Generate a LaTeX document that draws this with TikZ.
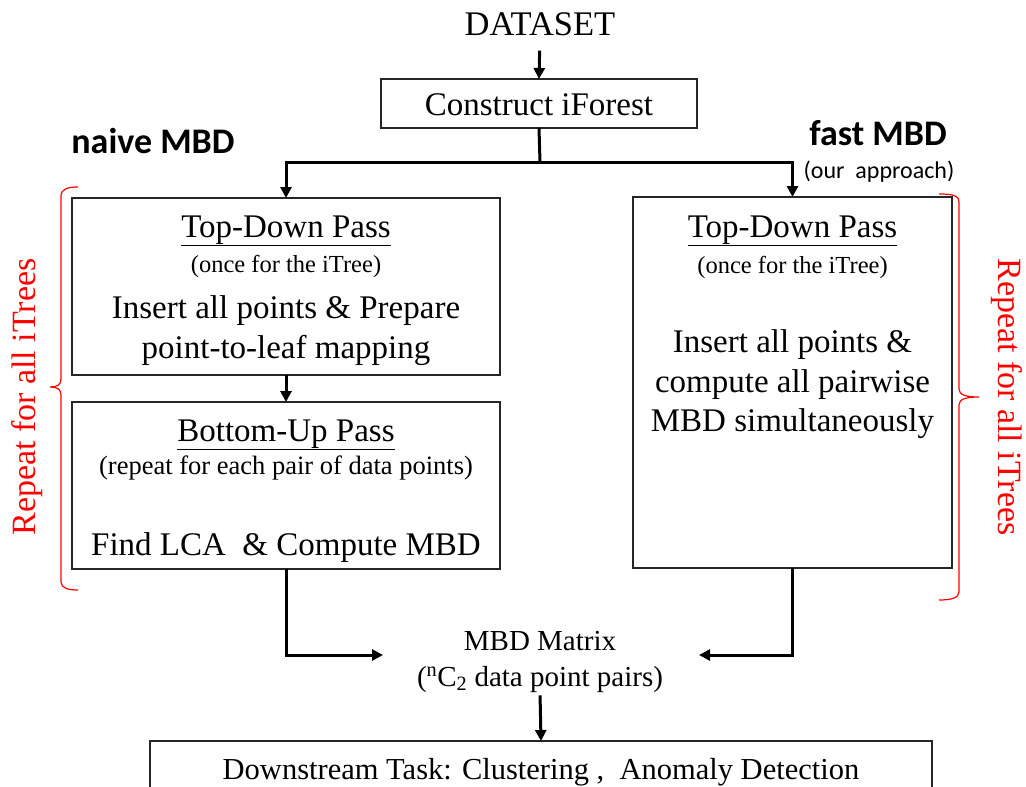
\documentclass[tikz,border=0pt]{standalone}
\usepackage{fontspec}
\setmainfont{Liberation Serif}
\newfontfamily\labelsans{Carlito}
\usetikzlibrary{arrows.meta}

\begin{document}
\begin{tikzpicture}[x=1pt,y=-1pt,
  box/.style={draw=black!85, line width=1.3pt, inner sep=0pt, outer sep=0pt},
  conn/.style={line width=3pt, line join=miter, -{Triangle[length=11pt,width=11pt]}},
  trunk/.style={line width=3pt},
  big/.style={anchor=base, inner sep=0pt, font=\fontsize{33}{38}\selectfont},
  note/.style={anchor=base, inner sep=0pt, font=\fontsize{24.5}{28}\selectfont},
  head/.style={anchor=base, inner sep=0pt, font=\labelsans\bfseries\fontsize{36}{40}\selectfont},
  bracepath/.style={draw=red, line width=1.2pt},
  bracetext/.style={anchor=base, inner sep=0pt, text=red, font=\fontsize{34}{38}\selectfont}]

\clip (0,0) rectangle (1026,787);

% input and forest construction
\node[big, font=\fontsize{34.5}{38}\selectfont] (data) at (540,35) {DATASET};
\node[box, minimum width=316pt, minimum height=49pt] (forest) at (539,103.5) {};
\node[big] (forestlbl) at (539,115) {Construct iForest};

% method headings
\node[head] (naive) at (153,153) {naive MBD};
\node[head] (fast) at (878,145) {fast MBD};
\node[anchor=base, inner sep=0pt, font=\labelsans\fontsize{24}{28}\selectfont] (ours) at (879,178) {(our~~approach)};

% naive method: two passes
\node[box, minimum width=428pt, minimum height=177pt] (td1) at (286,286.5) {};
\node[big] (td1a) at (286,237) {\underline{Top-Down Pass}};
\node[note] (td1b) at (286,272) {(once for the iTree)};
\node[big] (td1c) at (286,318) {Insert all points \& Prepare};
\node[big] (td1d) at (286,358) {point-to-leaf mapping};

\node[box, minimum width=428pt, minimum height=167pt] (bu) at (286,485.5) {};
\node[big] (bua) at (286,441) {\underline{Bottom-Up Pass}};
\node[note, font=\fontsize{26.5}{30}\selectfont] (bub) at (286,474) {(repeat for each pair of data points)};
\node[big] (buc) at (286,555) {Find LCA~~\& Compute MBD};

% fast method: single pass
\node[box, minimum width=319pt, minimum height=371pt] (fastbox) at (792.5,382.5) {};
\node[big] (fa) at (792.5,237) {\underline{Top-Down Pass}};
\node[note] (fb) at (792.5,273) {(once for the iTree)};
\node[big] (fc) at (792.5,352) {Insert all points \&};
\node[big] (fd) at (792.5,392) {compute all pairwise};
\node[big] (fe) at (792.5,431) {MBD simultaneously};

% result and downstream use
\node[anchor=base, inner sep=0pt, font=\fontsize{29}{34}\selectfont] (mbd1) at (540,650) {MBD Matrix};
\node[anchor=base, inner sep=0pt, font=\fontsize{29}{34}\selectfont] (mbd2) at (540,686) {(\textsuperscript{n}C\textsubscript{2} data point pairs)};
\node[box, minimum width=782pt, minimum height=79pt] (down) at (541,780.5) {};
\node[anchor=base, inner sep=0pt, font=\fontsize{30.5}{34}\selectfont] (downlbl) at (541,779) {Downstream Task: Clustering ,~~Anomaly Detection};

% connectors
\coordinate (split) at (540,162);
\coordinate (mL) at (383,655);
\coordinate (mR) at (699,655);
\draw[conn, shorten <=15pt] (data.south) -- (forest.north);
\draw[trunk] (forest.south) -- (split);
\draw[conn] (split) -| (td1.north);
\draw[conn] (split) -| (fastbox.north);
\draw[conn] (td1.south) -- (bu.north);
\draw[conn] (bu.south) |- (mL);
\draw[conn] (fastbox.south) |- (mR);
\draw[conn, shorten <=3pt] (mbd2.south) -- (down.north);

% repetition braces
\draw[bracepath] (78,187) .. controls (68,187) and (61,189) .. (61,196)
  -- (61,379) .. controls (61,385) and (57,387) .. (50,387)
  .. controls (57,387) and (61,389) .. (61,395)
  -- (61,582) .. controls (61,588) and (68,590) .. (78,590);
\draw[bracepath] (939,194) .. controls (951,194) and (959,195) .. (959,202)
  -- (959,389) .. controls (959,395) and (966,397) .. (979,397)
  .. controls (966,397) and (959,399) .. (959,405)
  -- (959,592) .. controls (959,598) and (951,600) .. (939,600);
\node[bracetext, rotate=90] (repL) at (35,397) {Repeat for all iTrees};
\node[bracetext, rotate=-90] (repR) at (998,397) {Repeat for all iTrees};
\end{tikzpicture}
\end{document}
